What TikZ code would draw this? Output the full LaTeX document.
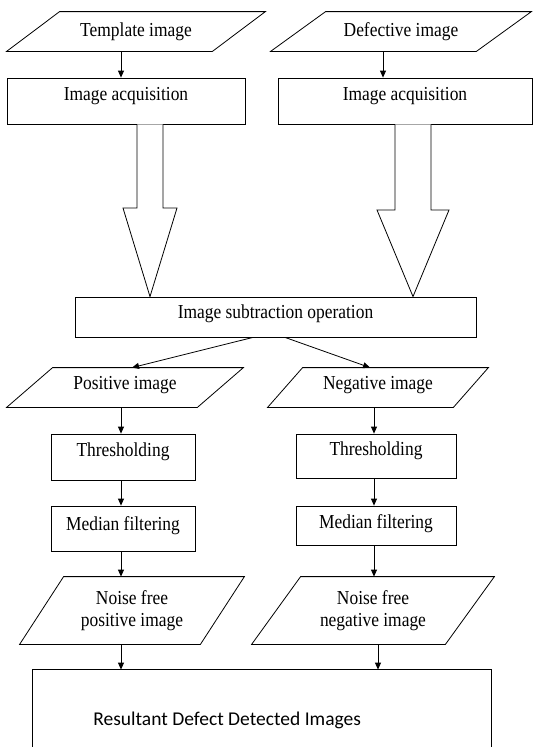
\documentclass[tikz,border=0pt]{standalone}
\usepackage{fontspec}
\setmainfont{Liberation Serif}[FakeStretch=0.88]
\newfontfamily\calibri{Carlito}
\usetikzlibrary{arrows.meta,calc}
\newcommand{\drawpara}[2]{\draw ([xshift=#2pt]#1.north west) -- (#1.north east) -- ([xshift=-#2pt]#1.south east) -- (#1.south west) -- cycle;}
\newcommand{\upby}[2]{\raisebox{#1}[\height][\depth]{#2}}
\begin{document}
\begin{tikzpicture}[x=1pt,y=-1pt,
  line width=0.8pt,
  box/.style={draw, rectangle, inner sep=0pt, font=\fontsize{19.8}{21.5}\selectfont},
  para/.style={rectangle, inner sep=0pt, align=center, font=\fontsize{19.8}{21.5}\selectfont},
  arr/.style={-{Triangle[length=7pt,width=6pt]}},
  blk/.style={draw, fill=white, line join=miter}]
\clip (0,0) rectangle (534,747);

% input parallelograms
\node[para, minimum width=258pt, minimum height=39pt] (tpl) at (136,31.5) {Template image};
\drawpara{tpl}{53}
\node[para, minimum width=260pt, minimum height=39pt] (def) at (401,31.5) {Defective image};
\drawpara{def}{55}

% acquisition boxes
\node[box, minimum width=238pt, minimum height=46pt] (acq1) at (126,101) {\upby{5pt}{Image acquisition}};
\node[box, minimum width=254pt, minimum height=46pt] (acq2) at (405,101) {\upby{5pt}{Image acquisition}};

\draw[arr] (121,0 |- tpl.south) -- (121,0 |- acq1.north);
\draw[arr] (383,0 |- def.south) -- (383,0 |- acq2.north);

% subtraction
\node[box, minimum width=401pt, minimum height=40pt] (sub) at (275.5,317) {\upby{3pt}{Image subtraction operation}};

% block arrows
\draw[blk] (137,0 |- acq1.south) -- (137,208) -- (123,208) -- (150,0 |- sub.north) -- (177,208) -- (163,208) -- (163,0 |- acq1.south);
\draw[blk] (395,0 |- acq2.south) -- (395,210) -- (377,210) -- (413,0 |- sub.north) -- (449,210) -- (431,210) -- (431,0 |- acq2.south);

% positive / negative
\node[para, minimum width=236pt, minimum height=39pt] (pos) at (125,387.5) {\upby{2pt}{Positive image}};
\drawpara{pos}{46}
\node[para, minimum width=220pt, minimum height=39pt] (neg) at (378,387.5) {\upby{2pt}{Negative image}};
\drawpara{neg}{35}

\draw[arr] (253,0 |- sub.south) -- (132,0 |- pos.north);
\draw[arr] (285,0 |- sub.south) -- (370,0 |- neg.north);

% thresholding
\node[box, minimum width=144pt, minimum height=46pt] (thr1) at (123,457) {\upby{5pt}{Thresholding}};
\node[box, minimum width=160pt, minimum height=44pt] (thr2) at (376,456) {\upby{5pt}{Thresholding}};

% median
\node[box, minimum width=144pt, minimum height=45pt] (med1) at (123,528.5) {\upby{3pt}{Median filtering}};
\node[box, minimum width=160pt, minimum height=39pt] (med2) at (376,525.5) {\upby{2pt}{Median filtering}};

% noise free
\node[para, minimum width=224pt, minimum height=67pt] (nf1) at (132,610.5) {Noise free\\positive image};
\drawpara{nf1}{44}
\node[para, minimum width=242pt, minimum height=67pt] (nf2) at (373,610.5) {Noise free\\negative image};
\drawpara{nf2}{49}

% result
\node[rectangle, inner sep=0pt, minimum width=458pt, minimum height=100pt] (res) at (262,720) {};
\draw (res.south west) -- (res.north west) -- (res.north east) -- (res.south east);
\node[anchor=west, inner sep=0pt, font=\calibri\fontsize{19.5}{22}\selectfont] (restext) at (93,720) {Resultant Defect Detected Images};

% vertical connectors
\draw[arr] (121,0 |- pos.south) -- (121,0 |- thr1.north);
\draw[arr] (121,0 |- thr1.south) -- (121,0 |- med1.north);
\draw[arr] (121,0 |- med1.south) -- (121,0 |- nf1.north);
\draw[arr] (121,0 |- nf1.south) -- (121,0 |- res.north);
\draw[arr] (374,0 |- neg.south) -- (374,0 |- thr2.north);
\draw[arr] (374,0 |- thr2.south) -- (374,0 |- med2.north);
\draw[arr] (374,0 |- med2.south) -- (374,0 |- nf2.north);
\draw[arr] (378,0 |- nf2.south) -- (378,0 |- res.north);
\end{tikzpicture}
\end{document}
